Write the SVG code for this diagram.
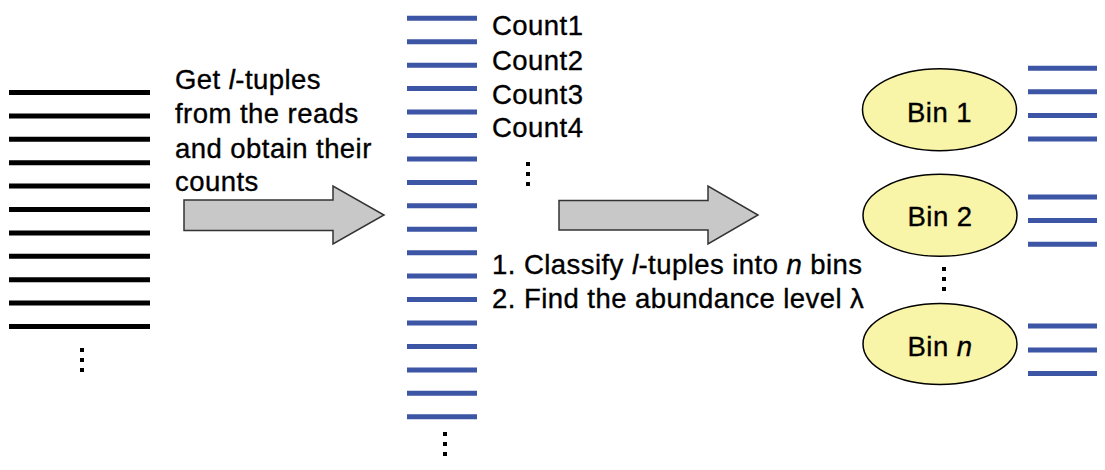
<svg xmlns="http://www.w3.org/2000/svg" width="1105" height="470" viewBox="0 0 1105 470">
<style>
text{font-family:"Liberation Sans",Arial,sans-serif;font-size:27.5px;letter-spacing:0.45px;fill:#000;stroke:#000;stroke-width:0.35}
.blk{stroke:#000;stroke-width:5}
.blu{stroke:#3D55A5;stroke-width:5}
.dots{stroke:#000;stroke-width:4;stroke-dasharray:4 6;fill:none}
.arr{fill:#C8C8C8;stroke:#333;stroke-width:1.5}
.bin{fill:#F8F4A8;stroke:#000;stroke-width:1.5}
</style>
<rect width="1105" height="470" fill="#fff"/>
<g id="reads">
<path class="blk" d="M9 92.5H150M9 115.9H150M9 139.3H150M9 162.7H150M9 186.1H150M9 209.5H150M9 232.9H150M9 256.3H150M9 279.7H150M9 303.1H150M9 326.5H150"/>
<path class="dots" d="M82 348V374"/>
</g>
<g id="tuples">
<path class="blu" d="M407 18.3H477M407 41.7H477M407 65.2H477M407 88.6H477M407 112H477M407 135.5H477M407 158.9H477M407 182.4H477M407 205.8H477M407 229.2H477M407 252.7H477M407 276.1H477M407 299.6H477M407 323H477M407 346.4H477M407 369.9H477M407 393.3H477M407 416.7H477"/>
<path class="dots" d="M445 432V456"/>
<text x="492" y="35">Count1</text>
<text x="492" y="70">Count2</text>
<text x="492" y="104">Count3</text>
<text x="492" y="137">Count4</text>
<path class="dots" d="M528 162V186"/>
</g>
<g id="bins">
<g id="bin1">
<ellipse class="bin" cx="939.5" cy="109.7" rx="77" ry="41"/>
<text x="939.5" y="121.5" text-anchor="middle">Bin 1</text>
<path class="blu" d="M1028 68.3H1097M1028 91.7H1097M1028 115.5H1097M1028 139H1097"/>
</g>
<g id="bin2">
<ellipse class="bin" cx="940" cy="215.3" rx="77" ry="41"/>
<text x="940" y="226" text-anchor="middle">Bin 2</text>
<path class="blu" d="M1028 197H1097M1028 220.6H1097M1028 244.2H1097"/>
</g>
<path class="dots" d="M944 267V291"/>
<g id="binn">
<ellipse class="bin" cx="940" cy="344" rx="77" ry="40.5"/>
<text x="940" y="355.5" text-anchor="middle">Bin <tspan font-style="italic">n</tspan></text>
<path class="blu" d="M1028 326H1097M1028 350H1097M1028 373.5H1097"/>
</g>
</g>
<g id="connectors">
<polygon class="arr" points="184,200 333,200 333,186 384,215 333,244 333,230.5 184,230.5"/>
<polygon class="arr" points="559,200.5 708,200.5 708,186 758,215 708,244 708,230 559,230"/>
</g>
<g id="labels">
<text x="175" y="88.5">Get <tspan font-style="italic">l</tspan>-tuples</text>
<text x="175" y="123">from the reads</text>
<text x="175" y="157.5">and obtain their</text>
<text x="175" y="191">counts</text>
<text x="492" y="274">1. Classify <tspan font-style="italic">l</tspan>-tuples into <tspan font-style="italic">n</tspan> bins</text>
<text x="492" y="308">2. Find the abundance level λ</text>
</g>
</svg>
